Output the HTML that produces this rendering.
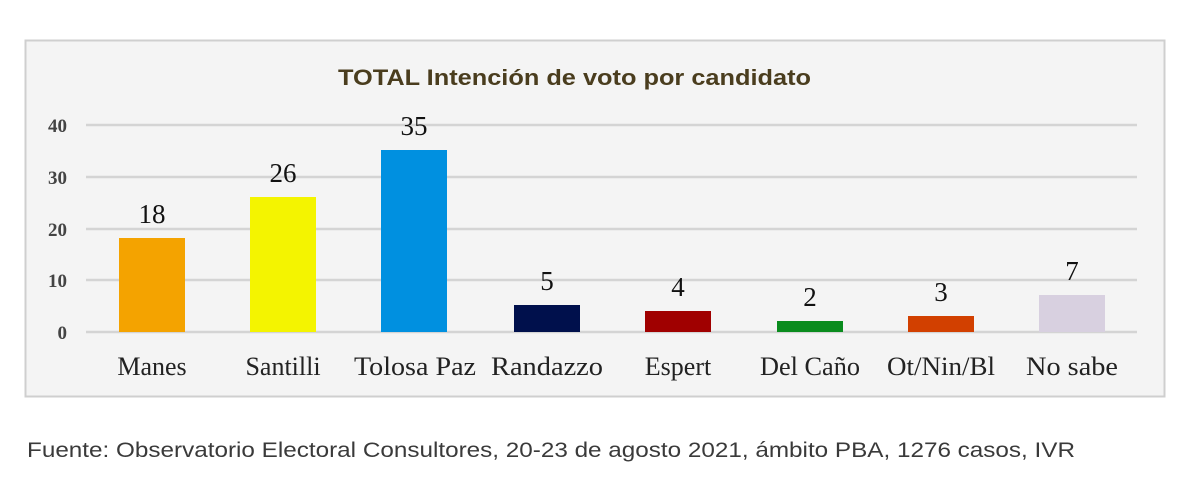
<!DOCTYPE html>
<html><head><meta charset="utf-8"><style>
body{margin:0;background:#fff;width:1190px;height:495px;overflow:hidden}
</style></head><body>
<svg width="1190" height="495" xmlns="http://www.w3.org/2000/svg">
<rect x="0" y="0" width="1190" height="495" fill="#fff"/>
<rect x="25.5" y="40.5" width="1139" height="356" fill="#f4f4f4" stroke="#cfcfcf" stroke-width="2"/>
<text x="338" y="85" textLength="473" lengthAdjust="spacingAndGlyphs" font-family="Liberation Sans, sans-serif" font-weight="bold" font-size="22" fill="#4a3d1e">TOTAL Intención de voto por candidato</text>
<g stroke="#d4d4d4" stroke-width="2.5">
<line x1="86" y1="125" x2="1137" y2="125"/>
<line x1="86" y1="177" x2="1137" y2="177"/>
<line x1="86" y1="229" x2="1137" y2="229"/>
<line x1="86" y1="280" x2="1137" y2="280"/>
<line x1="86" y1="332" x2="1137" y2="332"/>
</g>
<g font-family="Liberation Serif, serif" font-size="19" font-weight="bold" fill="#444" text-anchor="end">
<text x="67" y="132">40</text><text x="67" y="184">30</text><text x="67" y="236">20</text><text x="67" y="287">10</text><text x="67" y="339">0</text>
</g>
<g>
<rect x="119" y="238" width="66" height="94" fill="#f4a300"/>
<rect x="250" y="197" width="66" height="135" fill="#f4f400"/>
<rect x="381" y="150" width="66" height="182" fill="#0090e0"/>
<rect x="514" y="305" width="66" height="27" fill="#00104c"/>
<rect x="645" y="311" width="66" height="21" fill="#a00000"/>
<rect x="777" y="321" width="66" height="11" fill="#0a8c1e"/>
<rect x="908" y="316" width="66" height="16" fill="#d24000"/>
<rect x="1039" y="295" width="66" height="37" fill="#d8d0e0"/>
</g>
<g font-family="Liberation Serif, serif" font-size="27" fill="#111" text-anchor="middle">
<text x="152" y="223">18</text><text x="283" y="182">26</text><text x="414" y="135">35</text>
<text x="547" y="290">5</text><text x="678" y="296">4</text><text x="810" y="306">2</text><text x="941" y="301">3</text><text x="1072" y="280">7</text>
</g>
<g font-family="Liberation Serif, serif" font-size="26" fill="#222" text-anchor="middle">
<text x="152" y="375">Manes</text><text x="283" y="375">Santilli</text><text x="415" y="375" textLength="122" lengthAdjust="spacingAndGlyphs">Tolosa Paz</text>
<text x="547" y="375" textLength="112" lengthAdjust="spacingAndGlyphs">Randazzo</text><text x="678" y="375">Espert</text><text x="810" y="375" textLength="100" lengthAdjust="spacingAndGlyphs">Del Caño</text><text x="941" y="375" textLength="108" lengthAdjust="spacingAndGlyphs">Ot/Nin/Bl</text><text x="1072" y="375" textLength="92" lengthAdjust="spacingAndGlyphs">No sabe</text>
</g>
<text x="27" y="457" textLength="1048" lengthAdjust="spacingAndGlyphs" font-family="Liberation Sans, sans-serif" font-size="21" fill="#3a3a3a">Fuente: Observatorio Electoral Consultores, 20-23 de agosto 2021, ámbito PBA, 1276 casos, IVR</text>
</svg>
</body></html>
